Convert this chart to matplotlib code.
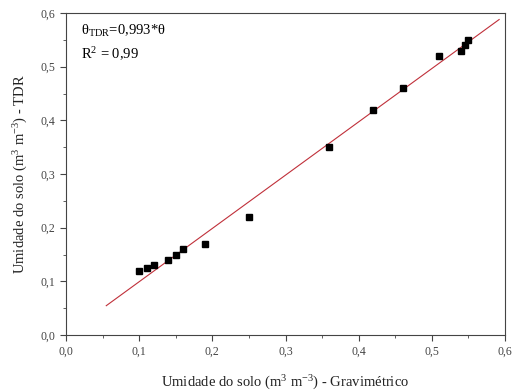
import matplotlib
matplotlib.use("Agg")
import matplotlib.pyplot as plt
import numpy as np
from matplotlib.ticker import MultipleLocator, FuncFormatter

plt.rcParams['font.family'] = ['Liberation Serif', 'DejaVu Serif']
plt.rcParams['mathtext.fontset'] = 'custom'
plt.rcParams['mathtext.rm'] = 'Liberation Serif'
plt.rcParams['mathtext.it'] = 'Liberation Serif:italic'

grav = [0.10, 0.11, 0.12, 0.14, 0.15, 0.16, 0.19, 0.25, 0.36, 0.42, 0.46, 0.51, 0.54, 0.545, 0.55]
tdr = [0.12, 0.125, 0.13, 0.14, 0.15, 0.16, 0.17, 0.22, 0.35, 0.42, 0.46, 0.52, 0.53, 0.54, 0.55]
slope = 0.993
fit_x = [0.055, 0.592]

fig = plt.figure(figsize=(5.13, 3.92), dpi=100)
ax = fig.add_axes([0.1287, 0.1454, 0.8557, 0.8214])

fx = np.array(fit_x)
ax.plot(fx, slope * fx, color='#c0303a', lw=0.8)
ax.plot(grav, tdr, 's', color='black', ms=5)

ax.set_xlim(0, 0.6)
ax.set_ylim(0, 0.6)
fmt = FuncFormatter(lambda v, p: f"{v:.1f}".replace('.', ','))
for a in (ax.xaxis, ax.yaxis):
    a.set_major_locator(MultipleLocator(0.1))
    a.set_minor_locator(MultipleLocator(0.05))
    a.set_major_formatter(fmt)
ax.tick_params(which='major', direction='out', length=4, labelsize=8.5, colors='#444444')
ax.tick_params(which='minor', direction='out', length=2.5, colors='#444444')
for s in ax.spines.values():
    s.set_color('#444444')

ax.set_xlabel('Umidade do solo (m$^{3}$ m$^{-3}$) - Gravimétrico', fontsize=10.5,
              color='#222222', labelpad=12)
ax.set_ylabel('Umidade do solo (m$^{3}$ m$^{-3}$) - TDR', fontsize=10.5,
              color='#222222', labelpad=8)

ax.text(0.035, 0.97, r'θ$_{\mathregular{TDR}}$=0,993*θ', transform=ax.transAxes,
        fontsize=10.5, va='top', ha='left')
ax.text(0.035, 0.90, r'R$^{2}$ = 0,99', transform=ax.transAxes,
        fontsize=10.5, va='top', ha='left')

fig.savefig('out.png', dpi=100)
